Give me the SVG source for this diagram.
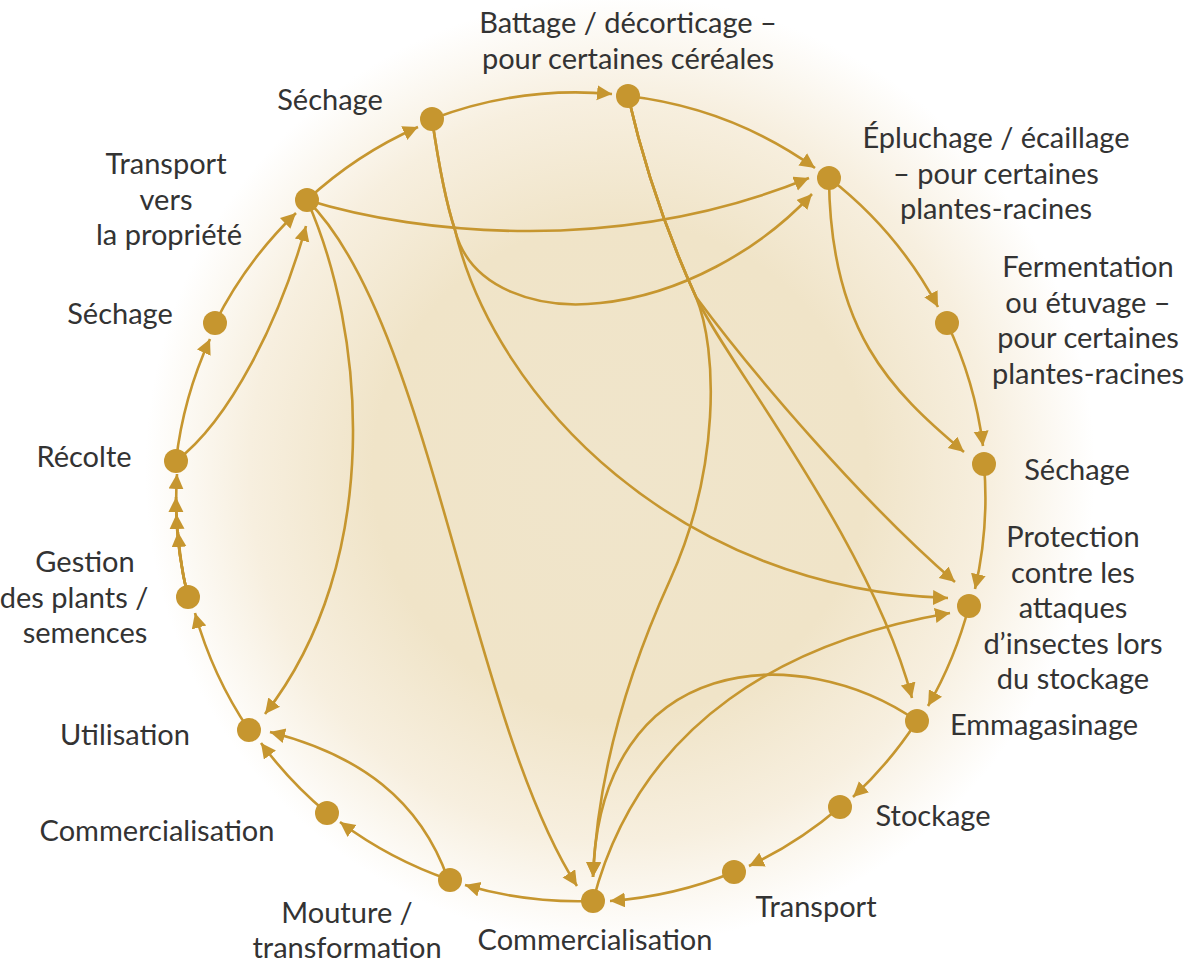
<svg xmlns="http://www.w3.org/2000/svg" width="1193" height="963" viewBox="0 0 1193 963">
<defs>
<radialGradient id="bg" gradientUnits="userSpaceOnUse" cx="620" cy="470" r="475">
<stop offset="0" stop-color="#f0e5cb"/>
<stop offset="0.52" stop-color="#f0e4c8"/>
<stop offset="0.78" stop-color="#f7efdf"/>
<stop offset="1" stop-color="#ffffff"/>
</radialGradient>
<marker id="ah" markerUnits="userSpaceOnUse" markerWidth="18" markerHeight="18" refX="15" refY="7.5" orient="auto">
<path d="M0,0 L15,7.5 L0,15 z" fill="#c6962f"/>
</marker>
<style>
.e{fill:none;stroke:#c6962f;stroke-width:2.6;marker-end:url(#ah)}
.n{fill:#c6962f}
.t{font-family:Lato,"Noto Sans","Liberation Sans",sans-serif;font-size:29px;fill:#333333;text-anchor:middle}
</style>
</defs>
<rect width="1193" height="963" fill="#ffffff"/>
<rect width="1193" height="963" fill="url(#bg)"/>
<g id="connectors">
<path class="e" d="M307,200 A404,404 0 0 1 418,127"/>
<path class="e" d="M432,119 A404,404 0 0 1 612,94"/>
<path class="e" d="M628,96 A404,404 0 0 1 815,168"/>
<path class="e" d="M829,178 A404,404 0 0 1 938,307"/>
<path class="e" d="M947,323 A404,404 0 0 1 983,446"/>
<path class="e" d="M984,464 A404,404 0 0 1 975,589"/>
<path class="e" d="M969,606 A404,404 0 0 1 928,706"/>
<path class="e" d="M917,721 A404,404 0 0 1 853,797"/>
<path class="e" d="M840,807 A404,404 0 0 1 749,866"/>
<path class="e" d="M734,872 A404,404 0 0 1 610,901"/>
<path class="e" d="M593,901 A404,404 0 0 1 465,885"/>
<path class="e" d="M450,880 A404,404 0 0 1 340,822"/>
<path class="e" d="M327,813 A404,404 0 0 1 261,743"/>
<path class="e" d="M249,730 A404,404 0 0 1 195,613"/>
<path class="e" d="M188,597 A406,406 0 0 1 178,532"/>
<path class="e" d="M188,597 A406,406 0 0 1 176.5,514"/>
<path class="e" d="M188,597 A406,406 0 0 1 176,497"/>
<path class="e" d="M188,597 A406,406 0 0 1 177,474"/>
<path class="e" d="M176,461 A404,404 0 0 1 210,339"/>
<path class="e" d="M215,323 A404,404 0 0 1 296,213"/>
<path class="e" d="M176,461 C230,420 280,320 306,226"/>
<path class="e" d="M307,200 C420,235 620,255 809,178"/>
<path class="e" d="M307,200 C365,330 385,560 265,714"/>
<path class="e" d="M307,200 C430,320 470,720 577,886"/>
<path class="e" d="M432,119 C438,160 445,200 455,230 C470,290 540,310 600,303 C680,295 760,250 812,194"/>
<path class="e" d="M432,119 C438,160 445,200 455,230 C495,400 680,590 948,598"/>
<path class="e" d="M628,96 C645,170 670,240 696,297 C718,350 720,470 670,580 C620,690 597,790 593,877"/>
<path class="e" d="M628,96 C645,170 670,240 696,297 C750,370 860,500 955,582"/>
<path class="e" d="M628,96 C645,170 670,240 696,297 C725,360 870,540 912,698"/>
<path class="e" d="M829,178 C830,330 890,390 964,452"/>
<path class="e" d="M917,721 C800,640 600,650 593,877"/>
<path class="e" d="M593,901 C640,720 790,640 950,613"/>
<path class="e" d="M448,879 C420,800 360,755 270,732"/>
</g>
<g id="n1"><circle class="n" cx="432" cy="119" r="12"/><text class="t" x="330" y="110">Séchage</text></g>
<g id="n2"><circle class="n" cx="628" cy="96" r="12"/><text class="t" x="628" y="33">Battage / décorticage –</text><text class="t" x="628" y="69">pour certaines céréales</text></g>
<g id="n3"><circle class="n" cx="829" cy="178" r="12"/><text class="t" x="996" y="148">Épluchage / écaillage</text><text class="t" x="996" y="184">– pour certaines</text><text class="t" x="996" y="219">plantes-racines</text></g>
<g id="n4"><circle class="n" cx="947" cy="323" r="12"/><text class="t" x="1088" y="277">Fermentation</text><text class="t" x="1088" y="313">ou étuvage –</text><text class="t" x="1088" y="348">pour certaines</text><text class="t" x="1088" y="384">plantes-racines</text></g>
<g id="n5"><circle class="n" cx="984" cy="464" r="12"/><text class="t" x="1077" y="480">Séchage</text></g>
<g id="n6"><circle class="n" cx="969" cy="606" r="12"/><text class="t" x="1073" y="547">Protection</text><text class="t" x="1073" y="583">contre les</text><text class="t" x="1073" y="618">attaques</text><text class="t" x="1073" y="654">d’insectes lors</text><text class="t" x="1073" y="689">du stockage</text></g>
<g id="n7"><circle class="n" cx="917" cy="721" r="12"/><text class="t" x="1044" y="735">Emmagasinage</text></g>
<g id="n8"><circle class="n" cx="840" cy="807" r="12"/><text class="t" x="933" y="826">Stockage</text></g>
<g id="n9"><circle class="n" cx="734" cy="872" r="12"/><text class="t" x="816" y="917">Transport</text></g>
<g id="n10"><circle class="n" cx="593" cy="901" r="12"/><text class="t" x="595" y="950">Commercialisation</text></g>
<g id="n11"><circle class="n" cx="450" cy="880" r="12"/><text class="t" x="347" y="923">Mouture /</text><text class="t" x="347" y="958">transformation</text></g>
<g id="n12"><circle class="n" cx="327" cy="813" r="12"/><text class="t" x="157" y="841">Commercialisation</text></g>
<g id="n13"><circle class="n" cx="249" cy="730" r="12"/><text class="t" x="125" y="745">Utilisation</text></g>
<g id="n14"><circle class="n" cx="188" cy="597" r="12"/><text class="t" x="85" y="572">Gestion</text><text class="t" x="74" y="608">des plants /</text><text class="t" x="85" y="643">semences</text></g>
<g id="n15"><circle class="n" cx="176" cy="461" r="12"/><text class="t" x="84" y="467">Récolte</text></g>
<g id="n16"><circle class="n" cx="215" cy="323" r="12"/><text class="t" x="120" y="324">Séchage</text></g>
<g id="n17"><circle class="n" cx="307" cy="200" r="12"/><text class="t" x="166" y="174">Transport</text><text class="t" x="166" y="210">vers</text><text class="t" x="169" y="245">la propriété</text></g>
</svg>
